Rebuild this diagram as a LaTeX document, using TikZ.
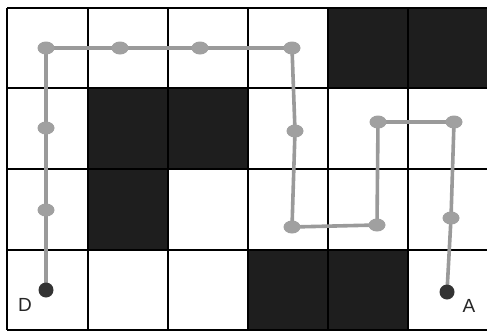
\documentclass[tikz,border=0pt]{standalone}
\usepackage{fontspec}
\setmainfont{Liberation Sans}
\usetikzlibrary{shapes.geometric,backgrounds}
\definecolor{cellblack}{HTML}{1E1E1E}
\definecolor{pathgray}{HTML}{9A9A9A}
\definecolor{blobgray}{HTML}{A0A0A0}
\definecolor{dotdark}{HTML}{333333}
\tikzset{
  blob/.style={ellipse, fill=blobgray, draw=none, minimum width=17pt, minimum height=13pt, inner sep=0pt},
  enddot/.style={circle, fill=dotdark, minimum size=15pt, inner sep=0pt},
  route/.style={draw=pathgray, line width=3.6pt, line cap=round, line join=round},
  gridline/.style={line width=1.4pt, black},
  darkcell/.style={fill=cellblack},
  lbl/.style={font=\fontsize{19pt}{19pt}\selectfont, text=black!85}
}
\begin{document}
\begin{tikzpicture}[x=1pt, y=-1pt]
\useasboundingbox (0,0) rectangle (487,332);
% nodes
\node[enddot] (d) at (46,290) {};
\node[blob] (b1) at (46,210) {};
\node[blob] (b2) at (46,128) {};
\node[blob] (b3) at (46,48) {};
\node[blob] (b4) at (120,48) {};
\node[blob] (b5) at (200,48) {};
\node[blob] (b6) at (292,48) {};
\node[blob] (b7) at (295,131) {};
\node[blob] (b8) at (292,227) {};
\node[blob] (b9) at (377,225) {};
\node[blob] (b10) at (378,122) {};
\node[blob] (b11) at (454,122) {};
\node[blob] (b12) at (451,218) {};
\node[enddot] (a) at (447,292) {};
% labels
\node[lbl] (lD) at (25,305) {D};
\node[lbl] (lA) at (469,306) {A};
\begin{scope}[on background layer]
\fill[white] (0,0) rectangle (487,332);
% dark cells
\fill[darkcell] (328,8) rectangle (487,88);
\fill[darkcell] (88,88) rectangle (248,169);
\fill[darkcell] (88,169) rectangle (168,250);
\fill[darkcell] (248,250) rectangle (408,330);
% grid
\foreach \x in {7,88,168,248,328,408}
  \draw[gridline] (\x,8) -- (\x,330);
\foreach \y in {8,88,169,250,330}
  \draw[gridline] (7,\y) -- (487,\y);
% route
\draw[route] (d.center) -- (b1.center) -- (b2.center) -- (b3.center) -- (b4.center) -- (b5.center) -- (b6.center) -- (b7.center) -- (b8.center) -- (b9.center) -- (b10.center) -- (b11.center) -- (b12.center) -- (a.center);
\end{scope}
\end{tikzpicture}
\end{document}
